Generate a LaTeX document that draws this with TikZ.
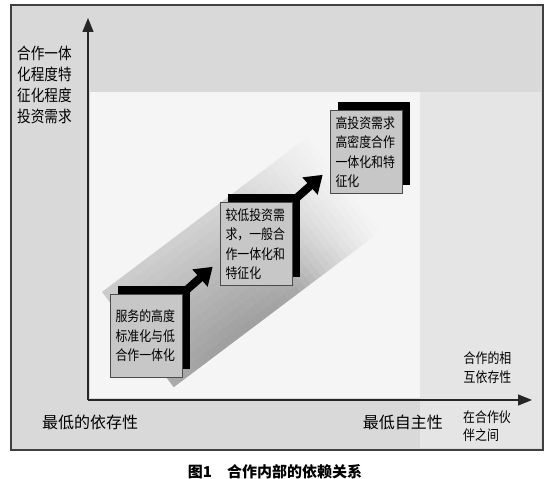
\documentclass[tikz,border=0pt]{standalone}
\usepackage{fontspec}
\newfontfamily\cjk[FakeStretch=0.85]{Noto Sans CJK SC}
\newfontfamily\cjkwide{Noto Sans CJK SC}
\usetikzlibrary{arrows.meta}

\tikzset{
	stagebox/.style={draw=black!70, line width=0.6pt, fill=black!22, minimum width=72pt, minimum height=83pt, inner sep=0pt, text width=61pt, align=left, font=\cjk\fontsize{14}{19.5}\selectfont},
	shadowbox/.style={fill=black, minimum width=72pt, minimum height=83pt, inner sep=0pt},
	stagearrow/.style={line width=8pt, -{Triangle[length=17pt,width=22pt]}},
	axis/.style={line width=1.2pt, black!85, -{Triangle[length=14pt,width=11pt]}},
	axistext/.style={inner sep=0pt, align=left, font=\cjk\fontsize{14}{19}\selectfont}
}

\newcommand\setup[0]{
	% frame
	\fill[white] (0,0) rectangle (549,479);
	\filldraw[draw=black!75, line width=1.2pt, fill=black!15] (11,29) rectangle (543,474);
	\fill[black!10] (420,31) rectangle (541,387);
	% plot area
	\fill[black!4] (90,81) rectangle (420,387);
}

\newcommand\stage[3]{
	\node[shadowbox] (#1shadow) at ([shift={(8,8)}]#2) {};
	\node[stagebox] (#1) at (#2) {#3};
}

\begin{document}
\begin{tikzpicture}[x=1pt, y=1pt]
	\useasboundingbox (0,0) rectangle (549,479);
	\setup
	
	% band
	\begin{scope}[shift={(102,187)}, rotate=37]
		\foreach \i in {0,...,39} {
			\foreach \j in {0,...,13} {
				\pgfmathsetmacro\u{\i/39}
				\pgfmathsetmacro\fade{min(1,(1-\u)/0.4)}
				\pgfmathsetmacro\tone{4+\fade*(16-6*\u+(\j+0.5)/14*(14+45*\u*(1-\u)-12*\u))}
				\fill[black!\tone] (\i*6.6,-\j*8.5) rectangle ++(6.8,-8.7);
			}
		}
	\end{scope}
	
	% axis
	\coordinate (origin) at (88,79);
	\coordinate (ytip) at (88,461);
	\coordinate (xtip) at (532,79);
	\draw[axis] (origin) -- (ytip);
	\draw[axis] (origin) -- (xtip);
	
	% stages
	\stage{low}{146,143}{服务的高度\\标准化与低\\合作一体化}
	\stage{mid}{256,235}{较低投资需\\求，一般合\\作一体化和\\特征化}
	\stage{high}{366,327}{高投资需求\\高密度合作\\一体化和特\\征化}
	
	% steps
	\coordinate (lowcorner) at ([shift={(4,4)}]low.north east);
	\coordinate (midtip) at ([shift={(-7,19)}]mid.south west);
	\coordinate (midcorner) at ([shift={(4,4)}]mid.north east);
	\coordinate (hightip) at ([shift={(-7,19)}]high.south west);
	\draw[stagearrow] (lowcorner) -- (midtip);
	\draw[stagearrow] (midcorner) -- (hightip);
	
	% labels
	\node[axistext, anchor=west, font=\cjk\fontsize{16}{21}\selectfont] (ylabel) at (17,394) {合作一体\\化程度特\\征化程度\\投资需求};
	\node[axistext] (xlabel) at (487.5,111.5) {合作的相\\互依存性};
	\node[axistext, anchor=west, font=\cjk\fontsize{14}{18}\selectfont] (partners) at (463,53) {在合作伙\\伴之间};
	\node[inner sep=0pt, anchor=west, font=\cjkwide\fontsize{16}{16}\selectfont] (mindep) at (42,57) {最低的依存性};
	\node[inner sep=0pt, anchor=east, font=\cjkwide\fontsize{16}{16}\selectfont] (minauto) at (443,57) {最低自主性};
	
	% caption
	\node[inner sep=0pt, font=\cjkwide\bfseries\fontsize{15}{15}\selectfont] (caption) at (275,7) {图1\quad 合作内部的依赖关系};
\end{tikzpicture}
\end{document}
